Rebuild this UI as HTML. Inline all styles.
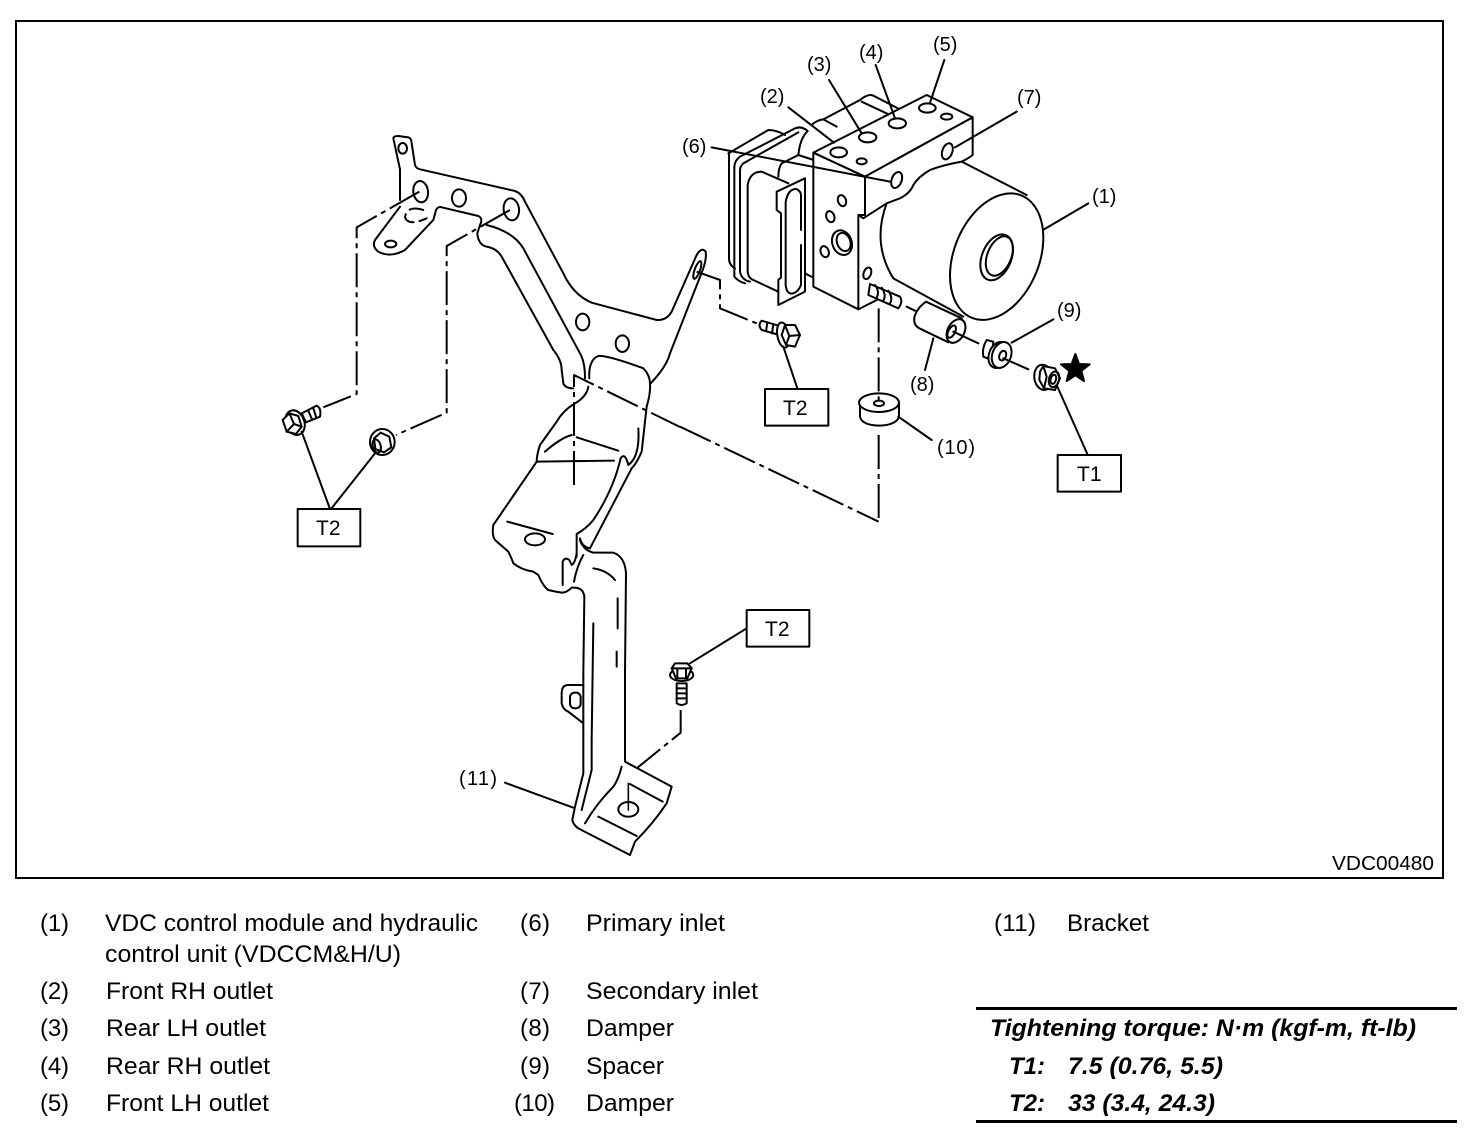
<!DOCTYPE html>
<html><head><meta charset="utf-8"><style>
html,body{margin:0;padding:0;background:#fff;width:1472px;height:1142px;overflow:hidden}
svg{display:block}
.l path,.l line,.l ellipse,.l polygon,.l polyline,.l rect{fill:none;stroke:#000;stroke-width:2;vector-effect:non-scaling-stroke;stroke-linecap:round;stroke-linejoin:round}
.l .w{fill:#fff}
.l .t{stroke-width:1.6}
.l .d{stroke-dasharray:34 5 5 5;stroke-linecap:butt}
text{font-family:"Liberation Sans",sans-serif;fill:#000}
.n{font-size:20px}
.b{font-size:21px}
.g{font-size:24px}
.h{font-size:24px;font-weight:bold;font-style:italic}
</style></head><body>
<svg width="1472" height="1142" viewBox="0 0 1472 1142" xmlns="http://www.w3.org/2000/svg">
<rect width="1472" height="1142" fill="#fff"/>
<rect x="16" y="21" width="1427" height="857" fill="none" stroke="#000" stroke-width="2"/>

<!-- Bracket upper -->
<g class="l" transform="translate(270 130) scale(.33333)">
<path d="M390,118 L370,25 Q370,18 385,18 L415,22 Q425,25 425,40 L435,105 Q438,115 450,118 L735,183 Q755,190 765,215 L880,430 Q910,495 965,518 L1160,570 Q1190,572 1205,545 L1280,375 Q1295,350 1307,365 Q1310,385 1300,415 L1200,670 Q1190,710 1140,762 Q1142,790 1130,830 L1115,965 Q1100,1000 1085,1015 L960,1255"/>
<path d="M390,118 V210 M390,230 L315,330 Q305,350 325,365 Q360,385 405,360 L490,270 L498,240 Q505,228 515,232 L625,258 Q640,265 630,285 L622,310 Q625,345 650,350 Q680,355 695,380 L850,660 Q875,690 875,720 L880,760 Q885,775 910,775"/>
<path d="M650,285 Q730,305 760,355 L930,670 Q945,695 945,745"/>
<path d="M958,745 Q955,690 985,678 Q1010,675 1120,715 Q1140,735 1140,762"/>
<path d="M955,770 Q950,800 915,820 Q880,840 860,875 L810,945 Q800,975 800,995 L670,1185 Q665,1215 675,1230 L715,1265 Q725,1285 730,1300 Q755,1320 790,1325 L805,1335 Q820,1370 835,1380"/>
<path d="M800,995 L1032,992 M825,965 Q870,925 905,915 M920,922 L1045,962"/>
<path d="M1052,985 Q1065,965 1075,1005 Q1110,980 1105,895 M1052,985 Q1030,1080 970,1170 Q950,1195 920,1212 V1280 M930,1225 Q935,1250 960,1255"/>
<path d="M712,1175 L848,1212"/>
<ellipse cx="398" cy="55" rx="13" ry="16"/>
<ellipse cx="452" cy="185" rx="22" ry="32" transform="rotate(-8 452 185)"/>
<ellipse cx="567" cy="204" rx="21" ry="26"/>
<ellipse cx="724" cy="238" rx="23" ry="33" transform="rotate(-8 724 238)"/>
<ellipse cx="938" cy="576" rx="20" ry="25"/>
<ellipse cx="1057" cy="641" rx="20" ry="25"/>
<ellipse cx="362" cy="342" rx="17" ry="10"/>
<ellipse cx="795" cy="1228" rx="30" ry="18"/>
<ellipse cx="1282" cy="420" rx="8" ry="28" transform="rotate(20 1282 420)"/>
<path d="M460,240 Q410,225 405,262 Q415,290 470,265" stroke-dasharray="14 6"/>
<!-- dash lines -->
<polyline class="d" points="448,185 260,292 260,792 160,832"/>
<polyline class="d" points="720,240 530,348 530,848 378,915"/>
<polyline class="d" points="912,1065 912,735 1230,891"/>
<!-- fasteners -->
<path class="w" d="M95,850 L140,827 Q155,835 150,860 L108,877 Z"/>
<path d="M115,842 L125,866 M130,835 L138,860"/>
<ellipse class="w" cx="75" cy="878" rx="28" ry="38" transform="rotate(-20 75 878)"/>
<polygon class="w" points="38,870 58,850 85,858 95,890 78,912 50,905"/>
<path d="M58,850 L72,882 L50,905 M72,882 L95,890"/>
<ellipse class="w" cx="337" cy="936" rx="37" ry="39"/>
<polygon points="312,925 332,908 358,920 364,952 342,967 316,957"/>
<ellipse cx="320" cy="948" rx="12" ry="20" transform="rotate(-15 320 948)"/>
<!-- leaders -->
<line x1="95" y1="905" x2="180" y2="1137"/>
<line x1="315" y1="970" x2="183" y2="1137"/>
<rect class="w" x="83" y="1137" width="188" height="112"/>
</g>

<!-- Bracket lower -->
<g class="l" transform="translate(450 540) scale(.33333)">
<path d="M295,150 Q315,155 335,158 Q350,158 365,143 Q400,140 403,170 L400,400 V700 L375,800 L367,840 Q370,855 385,865 L540,945 L555,905 Q610,850 650,790 L665,740 L525,665 V400 L528,100 Q525,50 490,38 Q460,38 430,38 Q400,30 390,0"/>
<path d="M338,135 V65 Q345,50 358,60 L365,75 Q375,70 380,40 M372,125 Q380,80 400,45 M430,85 Q470,90 495,120 M503,175 V265 M500,335 V380 M430,250 L425,600 V690 L395,810"/>
<path d="M400,435 H355 Q335,435 335,460 V490 Q340,510 355,515 L400,550"/>
<rect x="360" y="458" width="32" height="47" rx="14"/>
<path d="M515,680 Q505,720 490,740 Q440,790 405,850 M540,732 L638,785 M445,830 L560,888"/>
<ellipse cx="535" cy="808" rx="30" ry="22"/>
<path class="t" d="M535,730 V810"/>
<polyline class="d" points="692,510 692,578 560,685"/>
<!-- bolt -->
<path class="w" d="M680,430 H710 V490 Q695,500 680,490 Z"/>
<path d="M680,445 H710 M680,460 H710 M680,475 H710"/>
<ellipse class="w" cx="695" cy="405" rx="35" ry="18"/>
<polygon class="w" points="665,385 675,370 712,370 725,385 712,415 678,415"/>
<path d="M665,385 H725 M682,385 V415 M708,385 V415"/>
<line x1="720" y1="370" x2="890" y2="265"/>
<line x1="165" y1="728" x2="370" y2="803"/>
<rect class="w" x="890" y="210" width="188" height="110"/>
</g>

<!-- Unit -->
<g class="l" transform="translate(680 30) scale(.33333)">
<!-- ECU -->
<path d="M145,370 L265,300 Q290,300 315,315 M147,370 V685 Q147,705 165,715"/>
<path d="M163,410 Q165,390 180,380 L345,295 Q365,287 383,303 Q360,325 355,375 L305,400 Q295,415 295,440"/>
<path d="M180,420 Q180,410 190,400 L355,307 M180,420 V725 Q185,750 210,755 M163,410 V740 Q175,755 195,760"/>
<path d="M203,465 V725 Q205,745 220,750 L295,785 M203,465 Q210,425 245,425 L325,460"/>
<path class="w" d="M290,485 L375,445 V785 L295,825 V750 L303,743 V550 L290,540 Z"/>
<path d="M363,600 V495 Q363,485 350,477 Q325,475 317,515 V765 Q320,795 340,790 Q355,785 363,765 V645"/>
<path d="M375,730 L400,743"/>
<path d="M395,285 Q410,270 430,268 L540,210 Q565,190 580,197 L660,238 M430,268 L470,290 M545,215 L630,255"/>
<path d="M355,375 L530,432"/>
<!-- cylinder -->
<path d="M845,395 L1040,495 M620,520 Q575,640 640,745 L850,860"/>
<ellipse cx="950" cy="680" rx="128" ry="198" transform="rotate(22 950 680)"/>
<ellipse cx="950" cy="682" rx="44" ry="72" transform="rotate(22 950 682)"/>
<ellipse cx="958" cy="678" rx="36" ry="62" transform="rotate(22 958 678)"/>
<!-- block -->
<polygon class="w" points="400,368 740,195 878,262 555,440"/>
<path class="w" d="M555,440 L878,262 V375 Q865,385 845,395 Q790,405 750,420 Q715,440 700,465 Q690,490 660,505 L620,520 L550,565 L535,555 L553,555 Z"/>
<path class="w" d="M400,368 L555,440 V555 L535,555 V838 L400,770 Z"/>
<path d="M535,838 L600,805"/>
<ellipse cx="476" cy="367" rx="25" ry="15"/>
<ellipse cx="563" cy="322" rx="26" ry="15"/>
<ellipse cx="652" cy="280" rx="26" ry="15"/>
<ellipse cx="742" cy="234" rx="25" ry="14"/>
<ellipse cx="545" cy="394" rx="15" ry="9"/>
<ellipse cx="800" cy="260" rx="17" ry="9"/>
<ellipse cx="650" cy="450" rx="15" ry="25" transform="rotate(20 650 450)"/>
<ellipse cx="802" cy="364" rx="15" ry="25" transform="rotate(20 802 364)"/>
<ellipse cx="486" cy="512" rx="12" ry="17" transform="rotate(-20 486 512)"/>
<ellipse cx="451" cy="560" rx="12" ry="17" transform="rotate(-20 451 560)"/>
<ellipse cx="434" cy="665" rx="12" ry="17" transform="rotate(-20 434 665)"/>
<ellipse cx="486" cy="638" rx="29" ry="38" transform="rotate(-20 486 638)"/>
<ellipse cx="491" cy="636" rx="20" ry="28" transform="rotate(-20 491 636)"/>
<ellipse cx="562" cy="730" rx="11" ry="18" transform="rotate(20 562 730)"/>
<!-- stud -->
<path class="w" d="M570,762 L660,800 Q670,815 655,835 L565,795 Z"/>
<path d="M585,765 Q600,785 590,803 M605,773 Q620,795 610,812 M625,782 Q640,805 630,820"/>
<!-- damper 8 -->
<path class="w" d="M738,815 L845,865 L805,937 L718,895 Q700,885 703,862 Q710,835 738,815 Z"/>
<ellipse class="w" cx="828" cy="903" rx="25" ry="38" transform="rotate(28 828 903)"/>
<ellipse cx="815" cy="905" rx="10" ry="20" transform="rotate(28 815 905)"/>
<!-- spacer 9 -->
<path class="w" d="M940,935 L920,930 Q905,955 910,980 L935,990 Z"/>
<ellipse class="w" cx="955" cy="975" rx="28" ry="40" transform="rotate(20 955 975)"/>
<ellipse class="w" cx="965" cy="975" rx="28" ry="40" transform="rotate(20 965 975)"/>
<ellipse cx="968" cy="977" rx="10" ry="15" transform="rotate(20 968 977)"/>
<!-- nut T1 -->
<ellipse class="w" cx="1090" cy="1042" rx="27" ry="38" transform="rotate(-8 1090 1042)"/>
<polygon class="w" points="1080,1025 1090,1008 1125,1015 1140,1045 1125,1080 1092,1075 1078,1050"/>
<ellipse cx="1122" cy="1048" rx="15" ry="24" transform="rotate(15 1122 1048)"/>
<ellipse cx="1120" cy="1048" rx="8" ry="14" transform="rotate(15 1120 1048)"/>
<path d="M1090,1008 L1100,1040 L1092,1075"/>
<polygon points="1186,972 1197,1002 1229,1003 1204,1023 1212,1053 1186,1036 1160,1053 1168,1023 1143,1003 1175,1002" style="fill:#000;stroke-width:2"/>
<!-- damper 10 -->
<path class="w" d="M540,1120 V1160 Q545,1185 597,1187 Q650,1185 657,1160 V1120"/>
<ellipse class="w" cx="597" cy="1118" rx="60" ry="28"/>
<ellipse cx="597" cy="1120" rx="15" ry="8"/>
<!-- bolt T2 -->
<path class="w" d="M245,872 L305,890 L298,915 L245,900 Q232,885 245,872 Z"/>
<path d="M262,877 L258,904 M280,882 L276,910"/>
<ellipse class="w" cx="310" cy="915" rx="18" ry="38" transform="rotate(-10 310 915)"/>
<polygon class="w" points="315,885 345,885 360,915 345,950 318,945 305,915"/>
<path d="M315,885 L328,918 L318,945 M328,918 L360,915"/>
<!-- dash -->
<polyline class="d" points="50,725 120,750 120,835 230,880"/>
<line class="d" x1="596" y1="835" x2="596" y2="1115"/>
<line class="d" x1="596" y1="1215" x2="596" y2="1475"/>
<path d="M680,830 L705,842 M820,905 L895,940 M970,985 L1045,1018"/>
<line class="d" x1="0" y1="1190" x2="596" y2="1475"/>
<!-- leaders -->
<path d="M1092,598 L1225,520 M325,232 L462,338 M447,150 L545,310 M587,105 L645,265 M793,90 L750,218 M95,352 L630,455 M1010,245 L825,352 M760,925 L735,1020 M995,938 L1120,868 M655,1160 L755,1230 M1130,1065 L1222,1272 M310,950 L352,1075"/>
<rect class="w" x="255" y="1077" width="190" height="110"/>
<rect class="w" x="1133" y="1275" width="190" height="110"/>
</g>

<!-- numbered labels -->
<text class="n" x="1092" y="203">(1)</text>
<text class="n" x="760" y="103">(2)</text>
<text class="n" x="807" y="71">(3)</text>
<text class="n" x="859" y="59">(4)</text>
<text class="n" x="933" y="51">(5)</text>
<text class="n" x="682" y="153">(6)</text>
<text class="n" x="1017" y="104">(7)</text>
<text class="n" x="910" y="391">(8)</text>
<text class="n" x="1057" y="317">(9)</text>
<text class="n" x="937" y="454" textLength="38">(10)</text>
<text class="n" x="459" y="785" textLength="38">(11)</text>
<text class="b" x="783" y="415">T2</text>
<text class="b" x="1077" y="481">T1</text>
<text class="b" x="316" y="535">T2</text>
<text class="b" x="765" y="636">T2</text>
<text x="1332" y="870" font-size="20" textLength="102" lengthAdjust="spacingAndGlyphs">VDC00480</text>

<!-- legend -->
<text class="g" x="40" y="931" textLength="29">(1)</text>
<text class="g" x="105" y="931" textLength="373" lengthAdjust="spacingAndGlyphs">VDC control module and hydraulic</text>
<text class="g" x="105" y="962" textLength="296" lengthAdjust="spacingAndGlyphs">control unit (VDCCM&amp;H/U)</text>
<text class="g" x="40" y="999" textLength="29">(2)</text>
<text class="g" x="106" y="999" textLength="167" lengthAdjust="spacingAndGlyphs">Front RH outlet</text>
<text class="g" x="40" y="1036" textLength="29">(3)</text>
<text class="g" x="106" y="1036" textLength="160" lengthAdjust="spacingAndGlyphs">Rear LH outlet</text>
<text class="g" x="40" y="1074" textLength="29">(4)</text>
<text class="g" x="106" y="1074" textLength="164" lengthAdjust="spacingAndGlyphs">Rear RH outlet</text>
<text class="g" x="40" y="1111" textLength="29">(5)</text>
<text class="g" x="106" y="1111" textLength="163" lengthAdjust="spacingAndGlyphs">Front LH outlet</text>
<text class="g" x="520" y="931" textLength="30">(6)</text>
<text class="g" x="586" y="931" textLength="139" lengthAdjust="spacingAndGlyphs">Primary inlet</text>
<text class="g" x="520" y="999" textLength="30">(7)</text>
<text class="g" x="586" y="999" textLength="172" lengthAdjust="spacingAndGlyphs">Secondary inlet</text>
<text class="g" x="520" y="1036" textLength="30">(8)</text>
<text class="g" x="586" y="1036" textLength="88" lengthAdjust="spacingAndGlyphs">Damper</text>
<text class="g" x="520" y="1074" textLength="30">(9)</text>
<text class="g" x="586" y="1074" textLength="78" lengthAdjust="spacingAndGlyphs">Spacer</text>
<text class="g" x="514" y="1111" textLength="41">(10)</text>
<text class="g" x="586" y="1111" textLength="88" lengthAdjust="spacingAndGlyphs">Damper</text>
<text class="g" x="994" y="931" textLength="42">(11)</text>
<text class="g" x="1067" y="931" textLength="82" lengthAdjust="spacingAndGlyphs">Bracket</text>

<!-- torque table -->
<rect x="976" y="1007" width="481" height="3" fill="#000"/>
<rect x="976" y="1120" width="481" height="3" fill="#000"/>
<text class="h" x="990" y="1036" textLength="426" lengthAdjust="spacingAndGlyphs">Tightening torque: N·m (kgf-m, ft-lb)</text>
<text class="h" x="1009" y="1074" textLength="36">T1:</text>
<text class="h" x="1068" y="1074" textLength="155" lengthAdjust="spacingAndGlyphs">7.5 (0.76, 5.5)</text>
<text class="h" x="1009" y="1111" textLength="36">T2:</text>
<text class="h" x="1068" y="1111" textLength="147" lengthAdjust="spacingAndGlyphs">33 (3.4, 24.3)</text>
</svg>
</body></html>
